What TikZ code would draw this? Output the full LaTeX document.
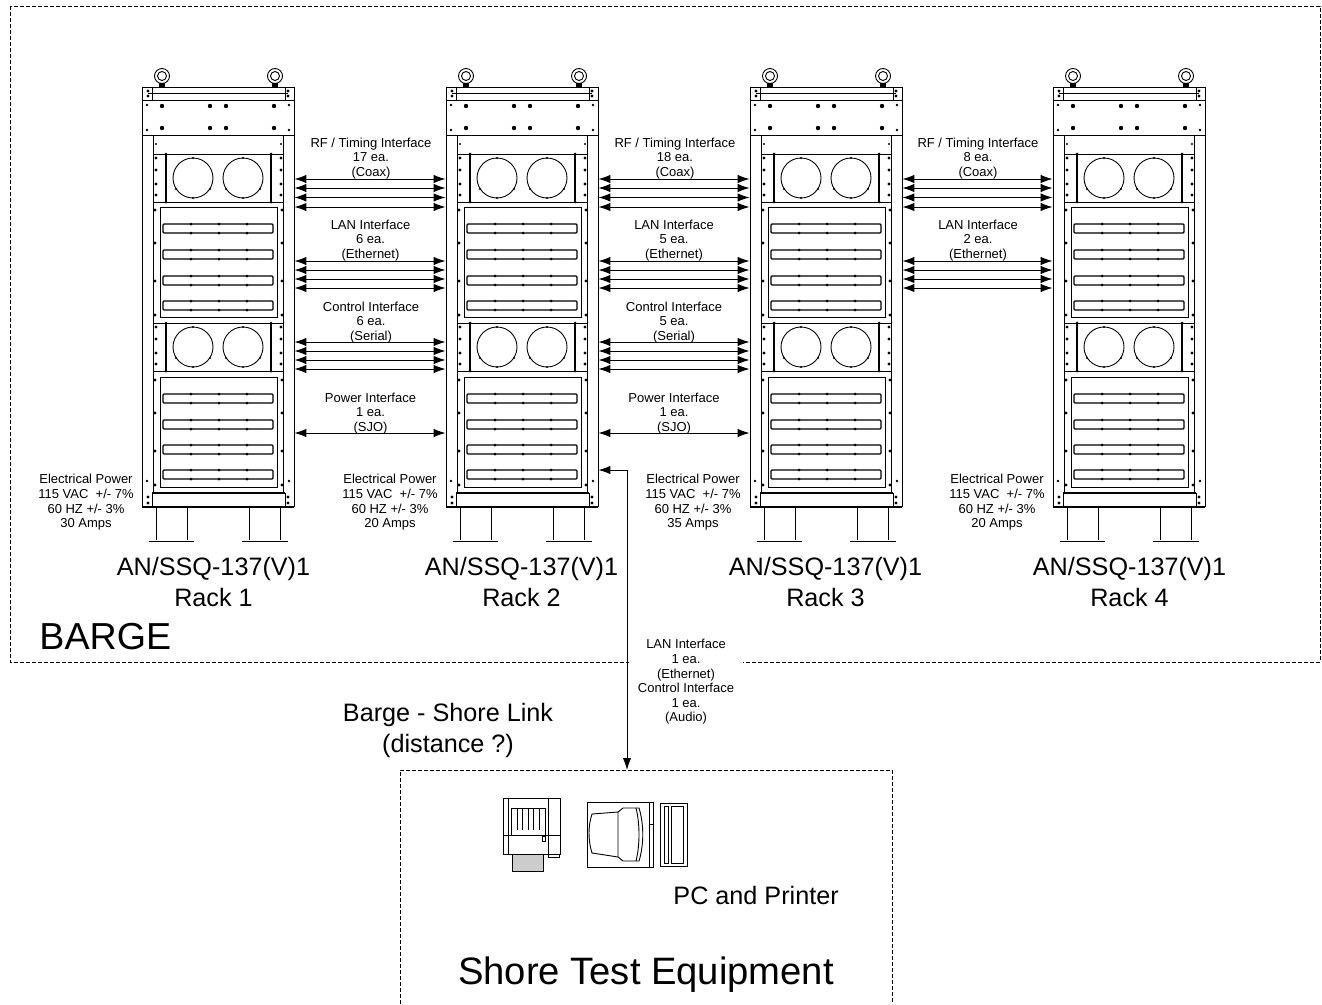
\documentclass[tikz,border=0pt]{standalone}
\usepackage{fontspec}
\setmainfont{Liberation Sans}
\usetikzlibrary{arrows.meta}

\tikzset{
  link/.style={{Latex[length=12pt,width=8.5pt]}-{Latex[length=12pt,width=8.5pt]},line width=1pt},
  dashline/.style={line width=0.7pt,dash pattern=on 4pt off 2pt},
  smalltext/.style={font=\fontsize{13}{14.6}\selectfont,align=center,inner sep=0pt},
  bigtext/.style={font=\fontsize{25.2}{31}\selectfont,align=center,inner sep=0pt},
  hugetext/.style={font=\fontsize{37.6}{40}\selectfont,inner sep=0pt},
  rackbox/.style={minimum width=152pt,minimum height=420pt,inner sep=0pt},
}

% fan panel, top edge at y=#1
\newcommand{\fanunit}[1]{
  \draw (153,#1) -- (283,#1) (153,#1+48) -- (283,#1+48);
  \draw[line width=1.1pt] (166,#1) -- (166,#1+48) (271,#1) -- (271,#1+48);
  \draw (193,#1+24) circle (20) (243,#1+24) circle (20);
  \foreach \cx in {193,243} {
    \fill (\cx,#1+4) circle (1.2) (\cx,#1+44) circle (1.2);
    \fill (\cx-17,#1+35) circle (1.2) (\cx+17,#1+35) circle (1.2);
  }
  \foreach \dy in {4,16,30,41} {
    \fill (156,#1+\dy) circle (1.6) (281,#1+\dy) circle (1.6);
  }
  \fill (166,#1) circle (1.5) (271,#1) circle (1.5) (166,#1+48) circle (1.5) (271,#1+48) circle (1.5);
}
% slat with fixing points, top edge at y=#1
\newcommand{\slatunit}[1]{
  \draw[line width=1.3pt,rounded corners=1pt] (163,#1) rectangle (273,#1+9);
  \foreach \sx in {191,219,247} {
    \fill (\sx,#1) circle (1.5) (\sx,#1+9) circle (1.5);
  }
}
% one equipment rack drawn at rack 1 position
\newcommand{\rackdraw}{
  % eye bolts
  \foreach \bx in {162,275} {
    \draw (\bx,76) circle (7.5) (\bx,76) circle (4.5);
    \fill (\bx-3,83) rectangle (\bx+3,87);
  }
  % top frame
  \draw (142,87) rectangle (294,100) (142,100) rectangle (294,135);
  \draw (152,87) -- (152,100) (285,87) -- (285,100);
  \draw[line width=1.1pt] (148,93.5) -- (288,93.5);
  \foreach \tx in {148,288} {
    \fill (\tx,91) circle (1.6) (\tx,96) circle (1.6);
  }
  \foreach \tx in {162,210,226,274} {
    \fill (\tx,106) circle (2.2) (\tx,128) circle (2.2);
  }
  \foreach \tx in {147,289} {
    \fill (\tx,105) circle (1.3) (\tx,130) circle (1.3);
  }
  % rails
  \draw (142,135) -- (142,507) (294,135) -- (294,507);
  \draw (153,135) -- (153,493) (283,135) -- (283,493);
  \fill (156,144) circle (1.2) (281,144) circle (1.2);
  \fanunit{154}
  \fanunit{323}
  % slat panels
  \foreach \py in {207,377} {
    \draw (160,\py) rectangle (277,\py+110);
    \foreach \dy in {3,36,74,108} {
      \fill (155,\py+\dy) circle (1.6) (282,\py+\dy) circle (1.6);
    }
  }
  \foreach \sy in {224,250,276,301,394,420,445,470} {
    \slatunit{\sy}
  }
  % base and feet
  \draw[line width=1.1pt] (142,507) -- (294,507) (152,493) -- (285,493);
  \draw (152,493) -- (152,507) (285,493) -- (285,507);
  \fill (147,481) circle (1.3) (289,481) circle (1.3);
  \foreach \tx in {148,288} {
    \fill (\tx,497) circle (1.7) (\tx,503) circle (1.7);
  }
  \draw (156,507) -- (156,540) (187,507) -- (187,540);
  \draw (249,507) -- (249,540) (280,507) -- (280,540);
  \draw[line width=1.6pt] (149,541.5) -- (194,541.5) (242,541.5) -- (288,541.5);
}

\begin{document}
\begin{tikzpicture}[x=1pt,y=-1pt,>=Latex,line width=0.9pt]
  \useasboundingbox (0,0) rectangle (1322,1004);

  % ================= barge =================
  \draw[dashline] (10,6) rectangle (1320,662);
  \node[hugetext,anchor=west] (barge) at (39,637) {BARGE};

  % ================= Rack 1 =================
  \begin{scope}[shift={(0,0)}]
    \rackdraw
    \node[rackbox] (rack1) at (218,297) {};
    \node[bigtext] (name1) at (213.5,582) {AN/SSQ-137(V)1\\Rack 1};
    \node[smalltext] (power1) at (86,502.5) {Electrical Power\\115 VAC\ \ +/- 7\%\\60 HZ +/- 3\%\\30 Amps};
  \end{scope}

  % ================= Rack 2 =================
  \begin{scope}[shift={(304,0)}]
    \rackdraw
    \node[rackbox] (rack2) at (218,297) {};
    \node[bigtext] (name2) at (217.5,582) {AN/SSQ-137(V)1\\Rack 2};
    \node[smalltext] (power2) at (86,502.5) {Electrical Power\\115 VAC\ \ +/- 7\%\\60 HZ +/- 3\%\\20 Amps};
  \end{scope}

  % ================= Rack 3 =================
  \begin{scope}[shift={(608,0)}]
    \rackdraw
    \node[rackbox] (rack3) at (218,297) {};
    \node[bigtext] (name3) at (217.5,582) {AN/SSQ-137(V)1\\Rack 3};
    \node[smalltext] (power3) at (85,502.5) {Electrical Power\\115 VAC\ \ +/- 7\%\\60 HZ +/- 3\%\\35 Amps};
  \end{scope}

  % ================= Rack 4 =================
  \begin{scope}[shift={(911,0)}]
    \rackdraw
    \node[rackbox] (rack4) at (218,297) {};
    \node[bigtext] (name4) at (218.5,582) {AN/SSQ-137(V)1\\Rack 4};
    \node[smalltext] (power4) at (86,502.5) {Electrical Power\\115 VAC\ \ +/- 7\%\\60 HZ +/- 3\%\\20 Amps};
  \end{scope}

  % ================= Rack 1 -- Rack 2 =================
  \foreach \y in {179,188,197.5,207,261,270,279,288,342,351,360,369,433} {
    \draw[link] (rack1.east |- 0,\y) -- (rack2.west |- 0,\y);
  }
  \node[smalltext] (rf12) at (371,158.5) {RF / Timing Interface\\17 ea.\\(Coax)};
  \node[smalltext] (lan12) at (370.5,240.5) {LAN Interface\\6 ea.\\(Ethernet)};
  \node[smalltext] (ctl12) at (371,322.5) {Control Interface\\6 ea.\\(Serial)};
  \node[smalltext] (pwr12) at (370.5,413.5) {Power Interface\\1 ea.\\(SJO)};

  % ================= Rack 2 -- Rack 3 =================
  \foreach \y in {179,188,197.5,207,261,270,279,288,342,351,360,369,433} {
    \draw[link] (rack2.east |- 0,\y) -- (rack3.west |- 0,\y);
  }
  \node[smalltext] (rf23) at (675,158.5) {RF / Timing Interface\\18 ea.\\(Coax)};
  \node[smalltext] (lan23) at (674,240.5) {LAN Interface\\5 ea.\\(Ethernet)};
  \node[smalltext] (ctl23) at (674,322.5) {Control Interface\\5 ea.\\(Serial)};
  \node[smalltext] (pwr23) at (674,413.5) {Power Interface\\1 ea.\\(SJO)};

  % ================= Rack 3 -- Rack 4 =================
  \foreach \y in {179,188,197.5,207,261,270,279,288} {
    \draw[link] (rack3.east |- 0,\y) -- (rack4.west |- 0,\y);
  }
  \node[smalltext] (rf34) at (978,158.5) {RF / Timing Interface\\8 ea.\\(Coax)};
  \node[smalltext] (lan34) at (978,240.5) {LAN Interface\\2 ea.\\(Ethernet)};

  % ================= shore =================
  \coordinate (shoretop) at (627,770);
  \draw[dashline] (400,1004) |- (892,770) -- (892,1004);
  \node[smalltext,fill=white,minimum width=114pt,minimum height=90pt] (linklabel) at (686,682) {LAN Interface\\1 ea.\\(Ethernet)\\Control Interface\\1 ea.\\(Audio)};
  \draw[link] (rack2.east |- 0,470) -| (shoretop);
  \node[bigtext] (linkname) at (448,730) {Barge - Shore Link\\(distance ?)};
  \node[bigtext,anchor=west] (pcname) at (673,895) {PC and Printer};
  \node[hugetext,font=\fontsize{38.2}{40}\selectfont] (shorename) at (646,975) {Shore Test Equipment};

  % printer
  \draw[fill=black!20] (512,854) rectangle (543,871);
  \draw (503,798) rectangle (560,854);
  \draw (508,798) -- (508,854) (548,798) -- (548,854) (503,835) -- (560,835);
  \draw (511,835) |- (545,808) -- (545,835);
  \foreach \px in {517,522,528,533,539} {
    \draw (\px,808) -- (\px,830);
  }
  \draw (542,836) rectangle (545,841) (548,854) rectangle (559,857);

  % monitor and tower
  \draw (587,802) rectangle (653,867);
  \draw (649,802) -- (649,867) (649,824) -- (653,824);
  \draw (618,812) -- (592,814) .. controls (588,826) and (588,840) .. (592,853) -- (618,857);
  \draw (618,812) -- (623,808) -- (639,808) .. controls (644,824) and (644,845) .. (639,861) -- (623,861) -- (618,857) -- cycle;
  \draw (636,808) .. controls (640,824) and (640,845) .. (636,861);
  \draw (660,803) rectangle (687,866);
  \draw (664,806) rectangle (668,863) (671,806) rectangle (683,863);
\end{tikzpicture}
\end{document}
